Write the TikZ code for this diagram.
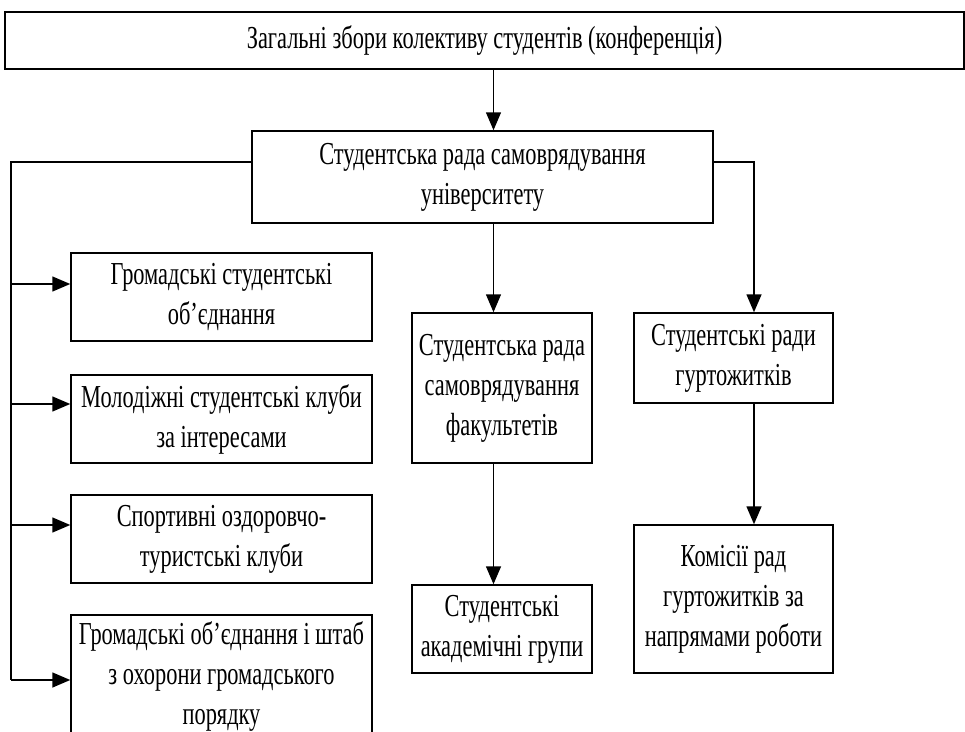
\documentclass[tikz,border=0pt]{standalone}
\usepackage{fontspec}
\setmainfont{Liberation Serif}[FakeStretch=0.7]
\usetikzlibrary{arrows.meta, positioning}

\begin{document}
\begin{tikzpicture}[x=1pt, y=-1pt,
        box/.style = {draw, line width=1.5pt, align=center, inner sep=0pt,
                      font=\fontsize{32}{40}\selectfont},
        line/.style = {line width=1.5pt},
        arr/.style = {line width=1.5pt, -{Triangle[length=18pt, width=15pt]}}]
            \useasboundingbox (0,0) rectangle (965,731);
            \node[box, minimum width=959pt, minimum height=57pt] (zbory) at (484.5,40.5) {Загальні збори колективу студентів (конференція)};
            \node[box, minimum width=461pt, minimum height=92pt] (rada) at (482.5,177) {Студентська рада самоврядування\\ університету};
            \node[box, minimum width=301pt, minimum height=88pt] (gso) at (221.5,297) {Громадські студентські\\ об’єднання};
            \node[box, minimum width=301pt, minimum height=88pt] (klub) at (221.5,419) {Молодіжні студентські клуби\\ за інтересами};
            \node[box, minimum width=301pt, minimum height=88pt] (sport) at (221.5,539) {Спортивні оздоровчо-\\ туристські клуби};
            \node[box, minimum width=301pt, minimum height=122pt] (shtab) at (221.5,676) {Громадські об’єднання і штаб\\ з охорони громадського\\ порядку};
            \node[box, minimum width=180pt, minimum height=150pt] (fak) at (502,388) {Студентська рада\\ самоврядування\\ факультетів};
            \node[box, minimum width=180pt, minimum height=88pt] (grupy) at (502,629) {Студентські\\ академічні групи};
            \node[box, minimum width=199pt, minimum height=90pt] (gurt) at (733.5,358) {Студентські ради\\ гуртожитків};
            \node[box, minimum width=199pt, minimum height=148pt] (komis) at (733.5,599) {Комісії рад\\ гуртожитків за\\ напрямами роботи};
            \coordinate (mid) at (493.5,0);
            \coordinate (right) at (754,0);
            \coordinate (spine) at (11,0);
            \draw[arr] (zbory.south -| mid) -- (rada.north -| mid);
            \draw[arr] (rada.south -| mid) -- (fak.north -| mid);
            \draw[arr] (fak.south -| mid) -- (grupy.north -| mid);
            \draw[arr] ([yshift=15pt]rada.east) -| (gurt.north -| right);
            \draw[arr] (gurt.south -| right) -- (komis.north -| right);
            \foreach \b/\s in {gso/13, klub/15, sport/14, shtab/-4}{
                \coordinate (\b-in) at ([yshift=\s pt]\b.west);
                \draw[arr] (spine |- \b-in) -- (\b-in);
            }
            \draw[line] ([yshift=15pt]rada.west) -| (spine |- shtab-in);
        \end{tikzpicture}
\end{document}
